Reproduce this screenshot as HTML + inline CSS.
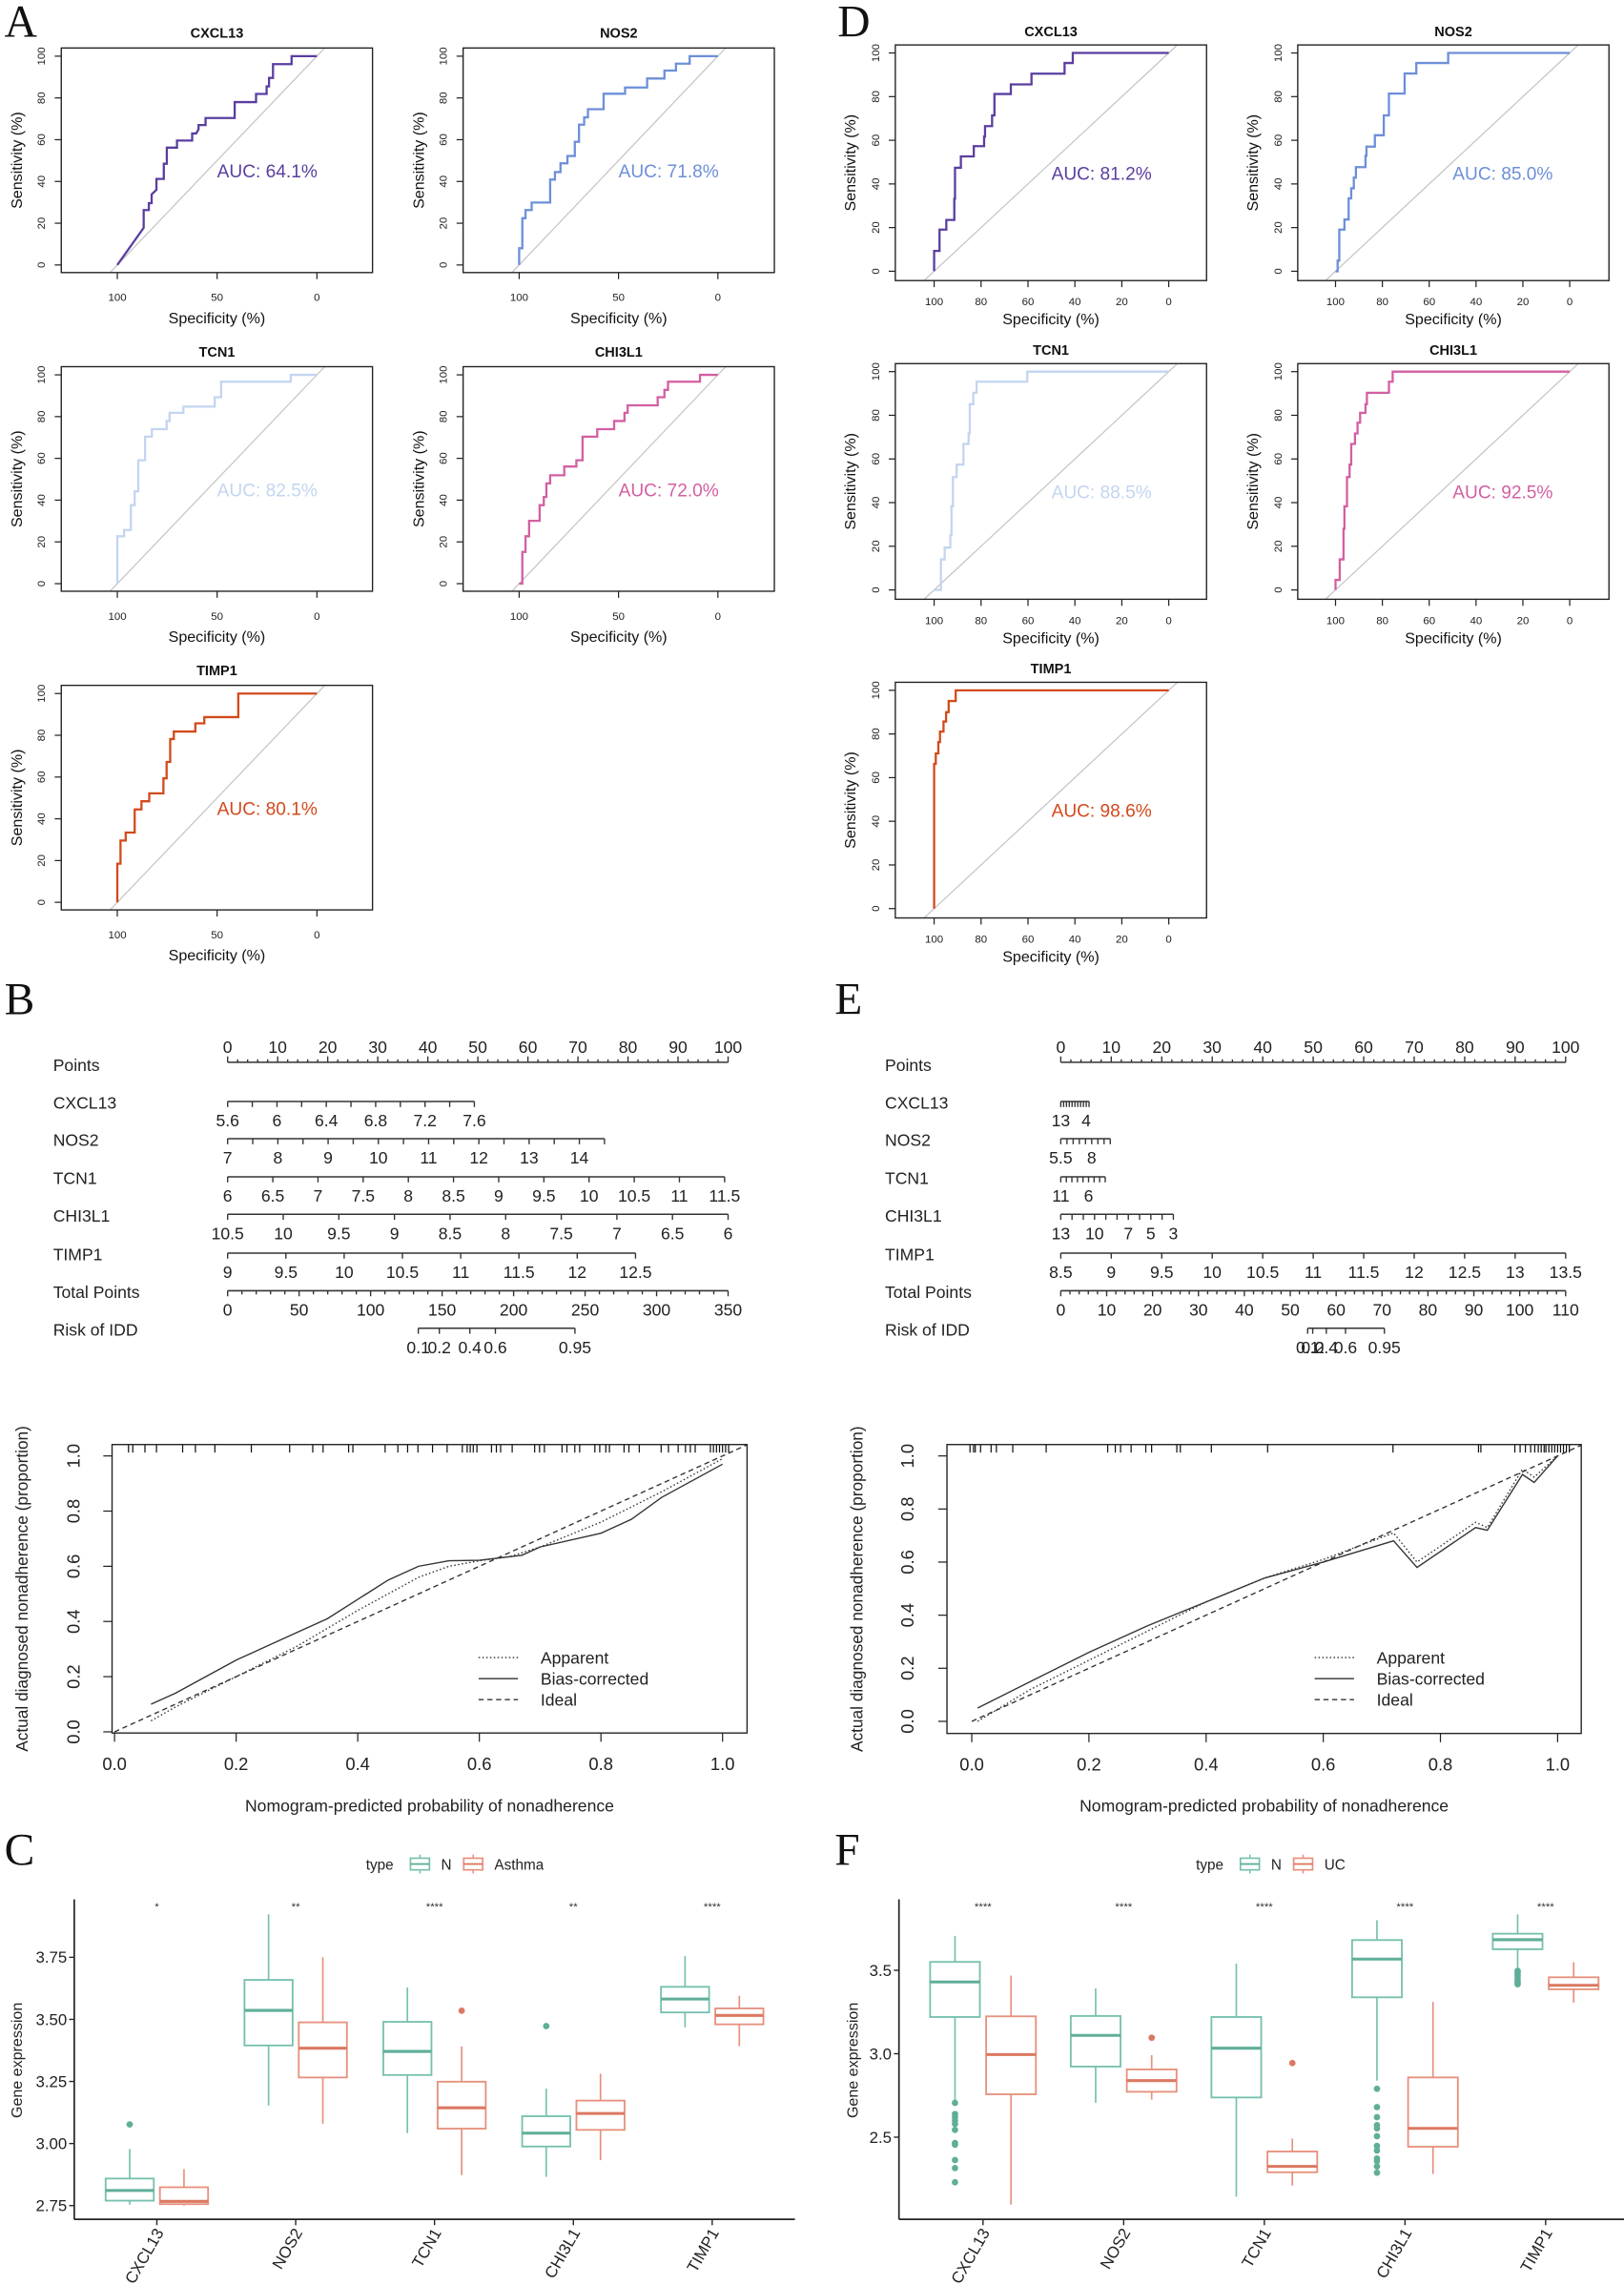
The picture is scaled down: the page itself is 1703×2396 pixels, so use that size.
<!DOCTYPE html>
<html><head><meta charset="utf-8"><title>ROC, nomogram, calibration and box plots</title>
<style>
html,body{margin:0;padding:0;background:#fff;}
svg{display:block;font-family:"Liberation Sans",Arial,sans-serif;}
</style></head>
<body>
<svg id="fig" width="1703" height="2396" viewBox="0 0 1113 1566" preserveAspectRatio="none" xmlns="http://www.w3.org/2000/svg">
<rect x="0" y="0" width="1113" height="1566" fill="#fff"/>
<text x="3" y="25" font-family="Liberation Serif" font-size="31" fill="#111">A</text>
<text x="574" y="25" font-family="Liberation Serif" font-size="31" fill="#111">D</text>
<text x="3" y="695" font-family="Liberation Serif" font-size="31" fill="#111">B</text>
<text x="572" y="695" font-family="Liberation Serif" font-size="31" fill="#111">E</text>
<text x="3" y="1278" font-family="Liberation Serif" font-size="31" fill="#111">C</text>
<text x="572" y="1278" font-family="Liberation Serif" font-size="31" fill="#111">F</text>
</svg>
<script>
// ---------------- ROC data (specificity %, sensitivity %) ----------------
const rocGenes = ['CXCL13','NOS2','TCN1','CHI3L1','TIMP1'];
const aucA = ['64.1','71.8','82.5','72.0','80.1'];
const aucD = ['81.2','85.0','88.5','92.5','98.6'];
const rocA_CXCL13 = [[100,0],[86.8,17.8],[86.8,26.3],[84.2,26.3],[84.2,29.6],[82.8,29.6],[82.8,33.8],[81.5,35],[80.4,36],[80.4,41.2],[76.7,41.2],[76.7,48.5],[75.2,48.5],[75.2,56.2],[70.1,56.2],[70.1,59.6],[62.5,59.6],[62.5,63],[60.5,63],[59.3,65],[59.3,67],[55.8,67],[55.8,70.4],[41.2,70.4],[41.2,78],[30.5,78],[30.5,81.9],[25.2,81.9],[25.2,85.5],[24,85.5],[24,89.6],[22,89.6],[22,96.2],[12.7,96.2],[12.7,100],[0,100]];
const rocA_NOS2 = [[100,0],[100,8],[98.4,8],[98.4,22.4],[96.8,22.4],[96.8,26.3],[93.7,26.3],[93.7,29.9],[84.4,29.9],[84.4,40.9],[82,40.9],[82,44.5],[79.2,44.5],[79.2,48.7],[75.7,48.7],[75.7,52.2],[72,52.2],[72,59],[69.9,59],[69.9,67.2],[67.3,67.2],[67.3,70.7],[65.4,70.7],[65.4,74.6],[57.5,74.6],[57.5,82],[46.7,82],[46.7,85],[35.6,85],[35.6,89.3],[26.9,89.3],[26.9,93.1],[21.1,93.1],[21.1,96.4],[14.2,96.4],[14.2,100],[0,100]];
const rocA_TCN1 = [[100,0],[100,22.7],[96.6,22.7],[96.6,25.7],[93.2,25.7],[93.2,37.6],[91.3,37.6],[91.3,44.2],[89.5,44.2],[89.5,59.1],[86.1,59.1],[86.1,70.4],[82.7,70.4],[82.7,74],[75.3,74],[75.3,77.9],[73.8,77.9],[73.8,81.8],[66.9,81.8],[66.9,84.8],[51.2,84.8],[51.2,89.3],[48,89.3],[48,96.7],[13.1,96.7],[13.1,100],[0,100]];
const rocA_CHI3L1 = [[100,0],[98.4,0],[98.4,15.2],[96.8,15.2],[96.8,22.7],[95,22.7],[95,30.1],[89.7,30.1],[89.7,37.6],[87.6,37.6],[87.6,41.5],[86.3,41.5],[86.3,48],[84.4,48],[84.4,51.9],[77.3,51.9],[77.3,56.1],[71.2,56.1],[71.2,59.1],[68.1,59.1],[68.1,70.4],[60.7,70.4],[60.7,74],[52.2,74],[52.2,77.9],[47,77.9],[47,81.8],[45.4,81.8],[45.4,85.4],[30.3,85.4],[30.3,89.3],[26.9,89.3],[26.9,92.8],[25.1,92.8],[25.1,96.7],[9,96.7],[9,100],[0,100]];
const rocA_TIMP1 = [[100,0],[100,18.5],[98.4,18.5],[98.4,29.6],[95.8,29.6],[95.8,33.4],[91.3,33.4],[91.3,44.5],[87.9,44.5],[87.9,48.4],[84,48.4],[84,52.2],[76.9,52.2],[76.9,59.4],[75.3,59.4],[75.3,67.2],[73.5,67.2],[73.5,78.2],[71.7,78.2],[71.7,81.8],[60.9,81.8],[60.9,85.7],[56.4,85.7],[56.4,88.7],[39.4,88.7],[39.4,100],[0,100]];
const rocD_CXCL13 = [[100,0],[100,9.3],[97.7,9.3],[97.7,19.1],[94.8,19.1],[94.8,23.5],[91.4,23.5],[91.4,33.2],[91.1,33.2],[91.1,47.4],[88.6,47.4],[88.6,52.6],[83.1,52.6],[83.1,57.3],[78.7,57.3],[78.7,61.7],[78.3,61.7],[78.3,66.5],[75.3,66.5],[75.3,71.4],[74.3,71.4],[74.3,81.2],[67.3,81.2],[67.3,85.6],[58.5,85.6],[58.5,90.5],[44.4,90.5],[44.4,95.4],[40.9,95.4],[40.9,100],[0,100]];
const rocD_NOS2 = [[100,0],[99.1,0],[99.1,4.9],[98.4,4.9],[98.4,19.1],[96.2,19.1],[96.2,23.7],[94.4,23.7],[94.4,33.4],[93.3,33.4],[93.3,38],[92.2,38],[92.2,42.9],[91.3,42.9],[91.3,47.7],[87.2,47.7],[87.2,52.9],[86.8,52.9],[86.8,57.1],[83.2,57.1],[83.2,62.3],[79.4,62.3],[79.4,71.4],[77.2,71.4],[77.2,81.4],[70.5,81.4],[70.5,90.6],[65.5,90.6],[65.5,95.4],[51.9,95.4],[51.9,100],[0,100]];
const rocD_TCN1 = [[100,0],[97.1,0],[97.1,14],[95.5,14],[95.5,19.4],[93.1,19.4],[93.1,25.1],[92.6,25.1],[92.6,38.3],[92,38.3],[92,51.7],[90.4,51.7],[90.4,57.4],[87.5,57.4],[87.5,66.9],[85.3,66.9],[85.3,71.7],[84.8,71.7],[84.8,85.1],[83.3,85.1],[83.3,90.3],[81.9,90.3],[81.9,95.4],[60.3,95.4],[60.3,100],[0,100]];
const rocD_CHI3L1 = [[100,0],[100,4.6],[98.2,4.6],[98.2,14],[96.6,14],[96.6,28],[96.2,28],[96.2,38.3],[95.1,38.3],[95.1,51.7],[94,51.7],[94,57.4],[93.3,57.4],[93.3,66.9],[91.7,66.9],[91.7,71.7],[90.6,71.7],[90.6,76.6],[89.5,76.6],[89.5,81.1],[87.2,81.1],[87.2,85.1],[86.6,85.1],[86.6,90.3],[77.2,90.3],[77.2,95.4],[75.6,95.4],[75.6,100],[0,100]];
const rocD_TIMP1 = [[100,0],[100,66.3],[99.3,66.3],[99.3,71.1],[98.2,71.1],[98.2,76.3],[97.5,76.3],[97.5,81.1],[96,81.1],[96,85.7],[94.9,85.7],[94.9,90],[93.8,90],[93.8,95.1],[90.8,95.1],[90.8,100],[0,100]];
const rocCurvesA = [rocA_CXCL13, rocA_NOS2, rocA_TCN1, rocA_CHI3L1, rocA_TIMP1];
const rocCurvesD = [rocD_CXCL13, rocD_NOS2, rocD_TCN1, rocD_CHI3L1, rocD_TIMP1];
const rocTicksA = [100,50,0];
const rocTicksD = [100,80,60,40,20,0];
const rocTicksY = [0,20,40,60,80,100];

// ---------------- Nomogram data ----------------
const nomoB_names = ['CXCL13','NOS2','TCN1','CHI3L1','TIMP1'];
const nomoB_from = [5.6,7,6,10.5,9];
const nomoB_to = [7.6,14.5,11.5,6,12.5];
const nomoB_ptsEnd = [49.3,75.3,99.3,100,81.5];
const nomoB_step = [0.2,0.5,0.5,0.5,0.5];
const nomoB_labels = [[5.6,6,6.4,6.8,7.2,7.6],[7,8,9,10,11,12,13,14],[6,6.5,7,7.5,8,8.5,9,9.5,10,10.5,11,11.5],[10.5,10,9.5,9,8.5,8,7.5,7,6.5,6],[9,9.5,10,10.5,11,11.5,12,12.5]];
const nomoB_totalMax = 350;
const nomoB_totalMinor = 10;
const nomoB_totalLabelStep = 50;
const nomoB_riskVals = [0.1,0.2,0.4,0.6,0.95];
const nomoB_riskPts = [38.1,42.3,48.4,53.5,69.4];

const nomoE_names = ['CXCL13','NOS2','TCN1','CHI3L1','TIMP1'];
const nomoE_from = [13,5.5,11,13,8.5];
const nomoE_to = [3,9.5,3,3,13.5];
const nomoE_ptsEnd = [5.6,9.8,8.8,22.3,100];
const nomoE_step = [1,0.5,1,1,0.5];
const nomoE_labels = [[13,4],[5.5,8],[11,6],[13,10,7,5,3],[8.5,9,9.5,10,10.5,11,11.5,12,12.5,13,13.5]];
const nomoE_totalMax = 110;
const nomoE_totalMinor = 2;
const nomoE_totalLabelStep = 10;
const nomoE_riskVals = [0.1,0.2,0.4,0.6,0.95];
const nomoE_riskPts = [48.9,49.9,52.6,56.4,64.1];

// ---------------- Calibration data (predicted, observed) ----------------
const calB_apparent = [[0.06,0.04],[0.1,0.09],[0.2,0.2],[0.3,0.31],[0.4,0.44],[0.45,0.5],[0.5,0.56],[0.55,0.6],[0.6,0.62],[0.65,0.635],[0.7,0.67],[0.8,0.76],[0.9,0.87],[1.0,0.99]];
const calB_bias = [[0.06,0.1],[0.1,0.14],[0.15,0.2],[0.2,0.26],[0.3,0.36],[0.35,0.41],[0.4,0.48],[0.45,0.55],[0.5,0.6],[0.55,0.62],[0.6,0.622],[0.67,0.64],[0.7,0.67],[0.8,0.72],[0.85,0.77],[0.9,0.85],[1.0,0.97]];
const calB_rug = [0.023,0.03,0.05,0.069,0.112,0.133,0.165,0.225,0.288,0.326,0.343,0.385,0.392,0.445,0.466,0.482,0.499,0.523,0.547,0.572,0.58,0.585,0.59,0.596,0.62,0.628,0.635,0.654,0.691,0.699,0.707,0.736,0.744,0.757,0.765,0.79,0.798,0.808,0.814,0.838,0.846,0.863,0.899,0.911,0.927,0.939,0.947,0.955,0.98,0.985,0.99,0.995,1.0,1.005,1.01];
const calE_apparent = [[0.01,0.0],[0.1,0.12],[0.2,0.23],[0.3,0.34],[0.4,0.45],[0.5,0.54],[0.6,0.61],[0.72,0.71],[0.76,0.6],[0.86,0.75],[0.88,0.73],[0.94,0.95],[0.96,0.92],[1.0,1.0]];
const calE_bias = [[0.01,0.05],[0.1,0.15],[0.2,0.26],[0.3,0.36],[0.4,0.45],[0.5,0.54],[0.6,0.6],[0.72,0.68],[0.76,0.58],[0.86,0.73],[0.88,0.72],[0.94,0.93],[0.96,0.9],[1.0,1.0]];
const calE_rug = [-0.003,0.003,0.006,0.015,0.033,0.042,0.07,0.127,0.232,0.245,0.254,0.272,0.297,0.307,0.35,0.356,0.409,0.505,0.719,0.865,0.869,0.927,0.936,0.945,0.954,0.961,0.967,0.972,0.977,0.98,0.985,0.99,0.995,1.0,1.005,1.01,1.015,1.02];
const calTicks = [0,0.2,0.4,0.6,0.8,1.0];

// ---------------- Box plot data [whiskerLow, Q1, median, Q3, whiskerHigh] ----------------
const boxCategories = ['CXCL13','NOS2','TCN1','CHI3L1','TIMP1'];
const boxC_N = [[2.754,2.77,2.811,2.859,2.978],[3.153,3.395,3.536,3.659,3.923],[3.042,3.276,3.371,3.49,3.628],[2.866,2.988,3.042,3.11,3.221],[3.468,3.528,3.582,3.631,3.755]];
const boxC_D = [[2.75,2.756,2.767,2.824,2.897],[3.08,3.266,3.384,3.488,3.75],[2.873,3.06,3.144,3.249,3.391],[2.933,3.055,3.121,3.173,3.281],[3.392,3.48,3.516,3.544,3.595]];
const boxC_outN = [[3.077],[],[],[3.473],[]];
const boxC_outD = [[],[],[3.535],[],[]];
const boxC_sig = ['*','**','****','**','****'];
const boxC_ticks = [2.75,3.00,3.25,3.50,3.75];
const boxF_N = [[2.715,3.22,3.43,3.55,3.706],[2.706,2.923,3.11,3.226,3.391],[2.144,2.738,3.033,3.22,3.54],[2.839,3.338,3.567,3.681,3.8],[3.506,3.626,3.683,3.719,3.835]];
const boxF_D = [[2.096,2.757,2.995,3.224,3.468],[2.725,2.772,2.839,2.906,2.991],[2.21,2.29,2.325,2.414,2.492],[2.28,2.443,2.553,2.858,3.31],[3.306,3.386,3.41,3.458,3.548]];
const boxF_outN = [[2.706,2.639,2.62,2.6,2.58,2.544,2.465,2.455,2.363,2.315,2.23],[],[],[2.79,2.68,2.62,2.572,2.553,2.506,2.448,2.42,2.372,2.357,2.325,2.287],[3.496,3.485,3.47,3.455,3.44,3.425,3.416]];
const boxF_outD = [[],[3.096],[2.944],[],[]];
const boxF_sig = ['****','****','****','****','****'];
const boxF_ticks = [2.5,3.0,3.5];

// ---------------- helpers ----------------
const NS = 'http://www.w3.org/2000/svg';
const svg = document.getElementById('fig');
function mk(tag, attrs, parent) {
  const e = document.createElementNS(NS, tag);
  for (const k in attrs) e.setAttribute(k, attrs[k]);
  (parent || svg).appendChild(e);
  return e;
}
function txt(s, attrs, parent) { const e = mk('text', attrs, parent); e.textContent = s; return e; }
function fmt(v) { return String(Math.round(v * 100) / 100); }
const rocColors = ['#5a3ea0','#6d8fd8','#c3d5f0','#d35fa2','#d24a1c'];

// ---------------- ROC ----------------
const geomA = {boxL:[42,317.4], boxW:213.3, boxT:[32.9,251.3,469.7], boxH:153.9, s100:[80.4,355.8], s0:[217.2,492], y0:[181.6,400,618.4], yh:143.1, titleOff:10.3, tickOff:19.5, labOff:34.7, ylabOff:27, ytlOff:11.3};
const geomD = {boxL:[613.6,889.4], boxW:213.3, boxT:[30.8,249.2,467.6], boxH:161.5, s100:[640.2,915.3], s0:[801,1075.8], y0:[185.9,404.3,622.7], yh:149.6, titleOff:9.4, tickOff:17, labOff:30, ylabOff:27.3, ytlOff:10.9};

function drawROC(pre, idx, geom, curve, auc, ticks) {
  const col = idx % 2, row = Math.floor(idx / 2);
  const L = geom.boxL[col], R = L + geom.boxW, T = geom.boxT[row], B = T + geom.boxH;
  const s100 = geom.s100[col], s0 = geom.s0[col], y0 = geom.y0[row], yh = geom.yh;
  const sx = v => s100 + (100 - v) * (s0 - s100) / 100;
  const sy = v => y0 - v * yh / 100;
  const g = mk('g', {});
  
  
  // diagonal reference
  const specAt = x => 100 - (x - s100) / (s0 - s100) * 100;
  const sensAt = y => (y0 - y) / yh * 100;
  const sStart = Math.max(sensAt(B), 100 - specAt(L));
  const sEnd = Math.min(sensAt(T), 100 - specAt(R));
  const dg = mk('line', {x1:sx(100 - sStart), y1:sy(sStart), x2:sx(100 - sEnd), y2:sy(sEnd), stroke:'#c4c4c4', 'stroke-width':0.8}, g);
  
  
  // curve
  let d = '';
  curve.forEach((p, i) => { d += (i ? 'L' : 'M') + sx(p[0]).toFixed(2) + ' ' + sy(p[1]).toFixed(2); });
  const cv = mk('path', {d:d, fill:'none', stroke:rocColors[idx], 'stroke-width':1.5}, g);
  
  
  // box
  const bx = mk('rect', {x:L, y:T, width:R - L, height:B - T, fill:'none', stroke:'#222', 'stroke-width':0.9}, g);
  
  
  // x ticks
  ticks.forEach(v => {
    const tk = mk('line', {x1:sx(v), x2:sx(v), y1:B, y2:B + 4.5, stroke:'#222', 'stroke-width':0.8}, g);
    
    
    const tl = txt(String(v), {x:sx(v), y:B + geom.tickOff, 'font-size':7.5, 'text-anchor':'middle', fill:'#222'}, g);
    
    
  });
  rocTicksY.forEach(v => {
    const tk = mk('line', {x1:L - 4.5, x2:L, y1:sy(v), y2:sy(v), stroke:'#222', 'stroke-width':0.8}, g);
    
    
    const x = L - geom.ytlOff, y = sy(v);
    const tl = txt(String(v), {x:x, y:y, 'font-size':7.5, 'text-anchor':'middle', fill:'#222', transform:'rotate(-90 ' + x + ' ' + y + ')'}, g);
    
    
  });
  const cx = (L + R) / 2, cy = (T + B) / 2;
  const ti = txt(rocGenes[idx], {x:cx, y:T - geom.titleOff + 3.3, 'font-size':9.5, 'font-weight':'bold', 'text-anchor':'middle', fill:'#111'}, g);
  
  
  const xl = txt('Specificity (%)', {x:cx, y:B + geom.labOff, 'font-size':10.5, 'text-anchor':'middle', fill:'#111'}, g);
  
  
  const yx = L - geom.ylabOff;
  const yl = txt('Sensitivity (%)', {x:yx, y:cy, 'font-size':10.5, 'text-anchor':'middle', fill:'#111', transform:'rotate(-90 ' + yx + ' ' + cy + ')'}, g);
  
  
  const at = txt('AUC: ' + auc + '%', {x:sx(50), y:sy(45) + 4.5, 'font-size':12.5, fill:rocColors[idx]}, g);
  
  
}
rocCurvesA.forEach((c, i) => drawROC('panel-a', i, geomA, c, aucA[i], rocTicksA));
rocCurvesD.forEach((c, i) => drawROC('panel-d', i, geomD, c, aucD[i], rocTicksD));

// ---------------- Nomogram ----------------
const nomoRowY = [754.9,780.4,806.5,832.2,858.8];
function drawNomo(pre, labelX, x0, x100, names, from, to, ptsEnd, step, labels, totalMax, totalMinor, totalLabelStep, riskVals, riskPts) {
  const px = p => x0 + p * (x100 - x0) / 100;
  const g = mk('g', {'font-size':11.5, fill:'#222'});
  
  
  const axisLine = (y, name) => {
    const l = mk('line', {x1:0, x2:0, y1:y, y2:y, stroke:'#333', 'stroke-width':1}, g);
    
    
    return l;
  };
  const tick = (x, y1, y2) => {
    const t = mk('line', {x1:x, x2:x, y1:y1, y2:y2, stroke:'#333', 'stroke-width':0.9}, g);
    
    
  };
  const label = (s, x, y, anchor, name) => {
    const t = txt(s, {x:x, y:y, 'text-anchor':anchor || 'middle'}, g);
    
    
  };
  // points axis
  const pl = axisLine(728, 'points-axis');
  pl.setAttribute('x1', px(0)); pl.setAttribute('x2', px(100));
  for (let p = 0; p <= 100; p += 2) tick(px(p), 728, p % 10 === 0 ? 724 : 726);
  for (let p = 0; p <= 100; p += 10) label(String(p), px(p), 721.5, 'middle', 'points-tick-label');
  label('Points', labelX, 734, 'start', 'row-label-points');
  // variables
  names.forEach((nm, i) => {
    const y = nomoRowY[i];
    const vp = v => px((v - from[i]) / (to[i] - from[i]) * ptsEnd[i]);
    const al = axisLine(y, 'axis-' + nm.toLowerCase());
    al.setAttribute('x1', vp(from[i])); al.setAttribute('x2', vp(to[i]));
    const n = Math.round(Math.abs(to[i] - from[i]) / step[i]);
    const dir = to[i] > from[i] ? 1 : -1;
    for (let k = 0; k <= n; k++) { const v = from[i] + dir * k * step[i]; tick(vp(v), y, y + 3.8); }
    labels[i].forEach(v => label(fmt(v), vp(v), y + 17, 'middle', 'tick-label-' + nm.toLowerCase()));
    label(nm, labelX, y + 5, 'start', 'row-label-' + nm.toLowerCase());
  });
  // total points
  const tp = v => px(v / totalMax * 100);
  const tl = axisLine(884.6, 'total-points-axis');
  tl.setAttribute('x1', tp(0)); tl.setAttribute('x2', tp(totalMax));
  for (let v = 0; v <= totalMax + 1e-9; v += totalMinor) tick(tp(v), 884.6, 884.6 + (Math.abs(v / totalLabelStep - Math.round(v / totalLabelStep)) < 1e-6 ? 3.8 : 2.5));
  for (let v = 0; v <= totalMax + 1e-9; v += totalLabelStep) label(String(v), tp(v), 901.6, 'middle', 'total-points-tick-label');
  label('Total Points', labelX, 889.6, 'start', 'row-label-total-points');
  // risk
  const rl = axisLine(910.3, 'risk-axis');
  rl.setAttribute('x1', px(riskPts[0])); rl.setAttribute('x2', px(riskPts[riskPts.length - 1]));
  riskVals.forEach((v, i) => { tick(px(riskPts[i]), 910.3, 914.1); label(String(v), px(riskPts[i]), 927.3, 'middle', 'risk-tick-label'); });
  label('Risk of IDD', labelX, 915.3, 'start', 'row-label-risk');
}
drawNomo('panel-b', 36.4, 156, 499, nomoB_names, nomoB_from, nomoB_to, nomoB_ptsEnd, nomoB_step, nomoB_labels, nomoB_totalMax, nomoB_totalMinor, nomoB_totalLabelStep, nomoB_riskVals, nomoB_riskPts);
drawNomo('panel-e', 606.5, 727, 1073, nomoE_names, nomoE_from, nomoE_to, nomoE_ptsEnd, nomoE_step, nomoE_labels, nomoE_totalMax, nomoE_totalMinor, nomoE_totalLabelStep, nomoE_riskVals, nomoE_riskPts);

// ---------------- Calibration ----------------
function drawCal(pre, geo, app, bias, rug) {
  const sx = v => geo.x0 + v * (geo.x1 - geo.x0);
  const sy = v => geo.y0 - v * (geo.y0 - geo.y1);
  const g = mk('g', {});
  
  
  const cp = mk('clipPath', {id:pre + '-clip'}, g);
  mk('rect', {x:geo.L, y:geo.T, width:geo.R - geo.L, height:geo.B - geo.T}, cp);
  const line = (pts, dash, name) => {
    let d = '';
    pts.forEach((p, i) => { d += (i ? 'L' : 'M') + sx(p[0]).toFixed(2) + ' ' + sy(p[1]).toFixed(2); });
    const a = {d:d, fill:'none', stroke:'#333', 'stroke-width':0.9, 'clip-path':'url(#' + pre + '-clip)'};
    if (dash) a['stroke-dasharray'] = dash;
    const e = mk('path', a, g);
    
    
  };
  line([[0,0],[1.06,1.06]], '3.5 2.5', 'ideal-line');
  line(app, '1 1.6', 'apparent-line');
  line(bias, null, 'bias-corrected-line');
  rug.forEach(v => {
    const r = mk('line', {x1:sx(v), x2:sx(v), y1:geo.T, y2:geo.T + 5.5, stroke:'#111', 'stroke-width':0.8, 'clip-path':'url(#' + pre + '-clip)'}, g);
    
    
  });
  const bx = mk('rect', {x:geo.L, y:geo.T, width:geo.R - geo.L, height:geo.B - geo.T, fill:'none', stroke:'#222', 'stroke-width':0.9}, g);
  
  
  calTicks.forEach(v => {
    const t = mk('line', {x1:sx(v), x2:sx(v), y1:geo.B, y2:geo.B + 6, stroke:'#222', 'stroke-width':0.8}, g);
    
    
    const l = txt(v.toFixed(1), {x:sx(v), y:geo.B + 25.5, 'font-size':12, 'text-anchor':'middle', fill:'#222'}, g);
    
    
    const t2 = mk('line', {x1:geo.L - 6, x2:geo.L, y1:sy(v), y2:sy(v), stroke:'#222', 'stroke-width':0.8}, g);
    
    
    const yx = geo.ytl, yy = sy(v);
    const l2 = txt(v.toFixed(1), {x:yx, y:yy, 'font-size':12, 'text-anchor':'middle', fill:'#222', transform:'rotate(-90 ' + yx + ' ' + yy + ')'}, g);
    
    
  });
  const cx = (geo.L + geo.R) / 2, cy = (geo.T + geo.B) / 2;
  const xl = txt('Nomogram-predicted probability of nonadherence', {x:cx, y:1241.5, 'font-size':11.5, 'text-anchor':'middle', fill:'#222'}, g);
  
  
  const yl = txt('Actual diagnosed nonadherence (proportion)', {x:geo.yl, y:cy, 'font-size':11.3, 'text-anchor':'middle', fill:'#222', transform:'rotate(-90 ' + geo.yl + ' ' + cy + ')'}, g);
  
  
  const leg = [['Apparent','1 1.6'],['Bias-corrected',null],['Ideal','3.5 2.5']];
  leg.forEach((e, i) => {
    const y = 1136 + i * 14.4;
    const a = {x1:geo.lgx, x2:geo.lgx + 27, y1:y, y2:y, stroke:'#333', 'stroke-width':0.9};
    if (e[1]) a['stroke-dasharray'] = e[1];
    const ln = mk('line', a, g);
    
    
    const t = txt(e[0], {x:geo.lgx + 42.5, y:y + 4.2, 'font-size':11.5, fill:'#222'}, g);
    
    
  });
}
drawCal('panel-b', {L:76.8, R:512, T:990, B:1187.7, x0:78.5, x1:495.2, y0:1186.9, y1:997.8, ytl:54.5, yl:19, lgx:328}, calB_apparent, calB_bias, calB_rug);
drawCal('panel-e', {L:649, R:1083.7, T:990, B:1188, x0:666, x1:1067.5, y0:1179.7, y1:997.8, ytl:626, yl:591, lgx:901}, calE_apparent, calE_bias, calE_rug);

// ---------------- Box plots ----------------
const colN = '#76c1ae', colNmed = '#5fae98', colD = '#e6917d', colDmed = '#dc7862';
function drawBox(pre, geo, nStats, dStats, outN, outD, sig, ticks, groupName) {
  const sy = v => geo.yRef + (geo.vRef - v) * geo.ppu;
  const cxOf = i => geo.c0 + i * geo.dc;
  const g = mk('g', {});
  
  
  const box = (st, cx, stroke, med, outs, name) => {
    const w = geo.bw;
    const wl = mk('line', {x1:cx, x2:cx, y1:sy(st[4]), y2:sy(st[3]), stroke:stroke, 'stroke-width':1.1}, g);
    
    
    const wl2 = mk('line', {x1:cx, x2:cx, y1:sy(st[1]), y2:sy(st[0]), stroke:stroke, 'stroke-width':1.1}, g);
    
    
    const r = mk('rect', {x:cx - w / 2, y:sy(st[3]), width:w, height:sy(st[1]) - sy(st[3]), fill:'#fff', stroke:stroke, 'stroke-width':1.2}, g);
    
    
    const m = mk('line', {x1:cx - w / 2, x2:cx + w / 2, y1:sy(st[2]), y2:sy(st[2]), stroke:med, 'stroke-width':2}, g);
    
    
    outs.forEach(v => {
      const c = mk('circle', {cx:cx, cy:sy(v), r:2.2, fill:med}, g);
      
      
    });
  };
  boxCategories.forEach((cat, i) => {
    const cx = cxOf(i);
    box(nStats[i], cx - geo.dodge, colN, colNmed, outN[i], cat.toLowerCase() + '-n');
    box(dStats[i], cx + geo.dodge, colD, colDmed, outD[i], cat.toLowerCase() + '-' + groupName.toLowerCase());
    const s = txt(sig[i], {x:cx, y:1309, 'font-size':7.5, 'text-anchor':'middle', fill:'#333'}, g);
    
    
    const t = mk('line', {x1:cx, x2:cx, y1:1521, y2:1525, stroke:'#222', 'stroke-width':0.9}, g);
    
    
    const lx = cx + 5, ly = 1530;
    const l = txt(cat, {x:lx, y:ly, 'font-size':11, 'text-anchor':'end', fill:'#222', transform:'rotate(-60 ' + lx + ' ' + ly + ')'}, g);
    
    
  });
  const ya = mk('line', {x1:geo.ax, x2:geo.ax, y1:1301.7, y2:1521, stroke:'#222', 'stroke-width':1.1}, g);
  
  
  const xa = mk('line', {x1:geo.ax, x2:geo.right, y1:1521, y2:1521, stroke:'#222', 'stroke-width':1.1}, g);
  
  
  ticks.forEach(v => {
    const t = mk('line', {x1:geo.ax - 3.5, x2:geo.ax, y1:sy(v), y2:sy(v), stroke:'#222', 'stroke-width':0.9}, g);
    
    
    const l = txt(v.toFixed(geo.dec), {x:geo.ax - 5, y:sy(v) + 3.8, 'font-size':11, 'text-anchor':'end', fill:'#222'}, g);
    
    
  });
  const yy = 1412;
  const yl = txt('Gene expression', {x:geo.ylx, y:yy, 'font-size':10.5, 'text-anchor':'middle', fill:'#222', transform:'rotate(-90 ' + geo.ylx + ' ' + yy + ')'}, g);
  
  
  // legend
  const lt = txt('type', {x:geo.lg, y:1281.5, 'font-size':10, fill:'#222'}, g);
  
  
  const key = (x, stroke, med, label, name) => {
    const k = mk('rect', {x:x, y:1273.5, width:13, height:8, fill:'#fff', stroke:stroke, 'stroke-width':1.1}, g);
    
    
    const m = mk('line', {x1:x, x2:x + 13, y1:1277.5, y2:1277.5, stroke:med, 'stroke-width':1.2}, g);
    
    
    const w = mk('path', {d:'M' + (x + 6.5) + ' 1271V1273.5M' + (x + 6.5) + ' 1281.5V1284', stroke:stroke, 'stroke-width':1}, g);
    
    
    const t = txt(label, {x:x + 21, y:1281.5, 'font-size':10, fill:'#222'}, g);
    
    
  };
  key(geo.lg + 30.5, colN, colNmed, 'N', 'n');
  key(geo.lg + 67, colD, colDmed, groupName, groupName.toLowerCase());
}
drawBox('panel-c', {yRef:1341.4, vRef:3.75, ppu:170.2, c0:107.5, dc:95.15, dodge:18.6, bw:33, ax:50.9, right:544.8, dec:2, ylx:15, lg:250.8}, boxC_N, boxC_D, boxC_outN, boxC_outD, boxC_sig, boxC_ticks, 'Asthma');
drawBox('panel-f', {yRef:1350.3, vRef:3.5, ppu:114.4, c0:673.7, dc:96.4, dodge:19.2, bw:34.1, ax:616.1, right:1113, dec:1, ylx:588, lg:819.6}, boxF_N, boxF_D, boxF_outN, boxF_outD, boxF_sig, boxF_ticks, 'UC');
</script>
</body></html>
